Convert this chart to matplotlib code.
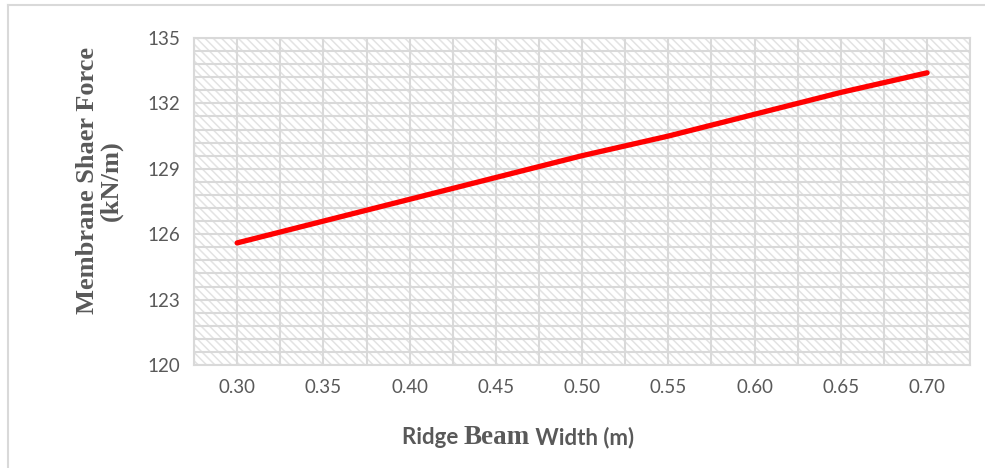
import matplotlib
matplotlib.use("Agg")
import matplotlib.pyplot as plt
from matplotlib.patches import Rectangle
from matplotlib.lines import Line2D
import numpy as np

widths = ["0.30", "0.35", "0.40", "0.45", "0.50", "0.55", "0.60", "0.65", "0.70"]
shear_force = [125.6, 126.6, 127.6, 128.6, 129.6, 130.5, 131.5, 132.5, 133.4]
y_ticks = [120, 123, 126, 129, 132, 135]

text_grey = "#595959"
grid_grey = "#d9d9d9"

plt.rcParams["hatch.linewidth"] = 1.1

fig = plt.figure(figsize=(9.85, 4.68), dpi=100)
ax = fig.add_axes([0.197, 0.220, 0.788, 0.699])

x = np.arange(len(widths))
ax.set_xlim(-0.5, len(widths) - 0.5)
ax.set_ylim(y_ticks[0], y_ticks[-1])

# hatched plot-area fill
ax.add_patch(Rectangle((0, 0), 1, 1, transform=ax.transAxes, facecolor="white",
                       edgecolor="#e3e3e3", hatch="\\\\\\\\", linewidth=0, zorder=0))

# gridlines: half-category verticals, fifth-of-major horizontals
for gx in np.arange(-0.5, len(widths), 0.5):
    ax.axvline(gx, color=grid_grey, lw=1.5, zorder=1)
for gy in np.arange(y_ticks[0], y_ticks[-1] + 0.01, 0.6):
    ax.axhline(gy, color=grid_grey, lw=1.5, zorder=1)

ax.plot(x, shear_force, color="#ff0000", lw=3.8, solid_capstyle="round", zorder=3)

for s in ax.spines.values():
    s.set_color(grid_grey)
    s.set_linewidth(1.5)

ax.set_xticks(x, widths)
ax.set_yticks(y_ticks)
ax.tick_params(length=0, labelsize=13.5, labelcolor=text_grey, pad=10)
for lbl in ax.get_xticklabels() + ax.get_yticklabels():
    lbl.set_family("Lato")

fig.text(0.101, 0.615, "Membrane Shaer Force\n(kN/m)", rotation=90, ha="center",
         va="center", family="Liberation Serif", weight="bold", fontsize=19,
         color=text_grey, linespacing=1.0)

# x label mixes two typefaces, so lay the pieces out one after another
parts = [("Ridge ", "Lato", 16), ("Beam", "Liberation Serif", 19.5), (" Width (m)", "Lato", 16)]
fig.canvas.draw()
renderer = fig.canvas.get_renderer()
items = []
for txt, fam, size in parts:
    t = fig.text(0, 1 - 444 / 468, txt, family=fam, weight="bold", fontsize=size,
                 color=text_grey, va="baseline", ha="left")
    items.append(t)
widths_px = [t.get_window_extent(renderer).width for t in items]
start = 518 - sum(widths_px) / 2
for t, w in zip(items, widths_px):
    t.set_x(start / 985)
    start += w

# outer frame
fig.add_artist(Line2D([8 / 985, 8 / 985], [0, 1 - 5 / 468], color=grid_grey, lw=1.5))
fig.add_artist(Line2D([8 / 985, 1], [1 - 5 / 468, 1 - 5 / 468], color=grid_grey, lw=1.5))

fig.savefig("out.png", dpi=100)
